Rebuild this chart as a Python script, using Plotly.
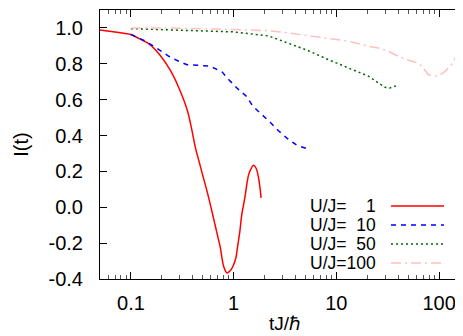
import plotly.graph_objects as go

# ---- data ----
u_values = [1, 10, 50, 100]

t_u1 = [0.05, 0.07, 0.1, 0.12, 0.15, 0.194, 0.243, 0.292, 0.352, 0.39, 0.425, 0.46, 0.5,
        0.54, 0.572, 0.62, 0.66, 0.70, 0.743, 0.77, 0.8, 0.861, 0.93, 1.0, 1.05, 1.1,
        1.15, 1.2, 1.25, 1.3, 1.35, 1.4, 1.48, 1.56, 1.65, 1.75, 1.85]
i_u1 = [0.989, 0.977, 0.963, 0.940, 0.911, 0.845, 0.762, 0.668, 0.545, 0.437, 0.331, 0.257, 0.178,
        0.108, 0.052, -0.032, -0.099, -0.162, -0.227, -0.283, -0.330, -0.366, -0.353, -0.320, -0.283, -0.208,
        -0.134, -0.041, 0.015, 0.070, 0.136, 0.182, 0.215, 0.234, 0.219, 0.163, 0.052]

t_u10 = [0.1, 0.139, 0.187, 0.234, 0.292, 0.352, 0.457, 0.594, 0.77, 0.908, 1.10, 1.33,
         1.54, 1.88, 2.27, 2.73, 3.34, 4.12, 5.15]
i_u10 = [0.963, 0.926, 0.879, 0.842, 0.814, 0.795, 0.792, 0.786, 0.755, 0.708, 0.660, 0.619,
         0.563, 0.520, 0.474, 0.427, 0.383, 0.346, 0.327]

t_u50 = [0.1, 0.478, 1.0, 2.2, 3.42, 5.35, 8.36, 13.1, 20.5, 29.7, 33.2, 38.5]
i_u50 = [0.996, 0.985, 0.978, 0.955, 0.916, 0.873, 0.823, 0.777, 0.731, 0.669, 0.665, 0.678]

t_u100 = [0.1, 0.227, 1.0, 2.19, 3.42, 6.7, 13.1, 20.5, 25.5, 32.1, 40, 53.9, 62.6, 70,
          78.1, 90.5, 101, 114, 132, 153, 163]
i_u100 = [1.0, 1.0, 0.991, 0.985, 0.972, 0.948, 0.926, 0.898, 0.888, 0.870, 0.842, 0.814,
          0.805, 0.777, 0.740, 0.731, 0.734, 0.758, 0.795, 0.861, 0.894]

x_tick_vals = [0.1, 1, 10, 100]
x_tick_text = ["0.1", "1", "10", "100"]
y_tick_vals = [1.0, 0.8, 0.6, 0.4, 0.2, 0.0, -0.2, -0.4]
y_tick_text = ["1.0", "0.8", "0.6", "0.4", "0.2", "0.0", "-0.2", "-0.4"]

# ---- styles ----
FONT = "Liberation Sans, Arial, Helvetica, sans-serif"
series = [
    (t_u1, i_u1, "#ff0000", "solid", "spline"),
    (t_u10, i_u10, "#0000ff", "5px,5px", "linear"),
    (t_u50, i_u50, "#006400", "2px,3px", "linear"),
    (t_u100, i_u100, "#ffc0c0", "10px,4px,2px,4px", "linear"),
]

fig = go.Figure()
for (tx, iy, col, dash, shape), u in zip(series, u_values):
    fig.add_trace(go.Scatter(
        x=tx, y=iy, mode="lines", name=f"U/J={u}",
        line=dict(color=col, width=1.5, dash=dash, shape=shape, smoothing=1.0),
        showlegend=False,
    ))

W, H = 463, 336
ml, mr, mt, mb = 92, 1, 2, 65
pw, ph = W - ml - mr, H - mt - mb

def px_x(p):
    return (p - ml) / pw

def px_y(p):
    return (H - mb - p) / ph

# legend built gnuplot-style: text on the left, sample on the right
row_y = [198, 217, 236, 255]
for (tx, iy, col, dash, shape), u, ry in zip(series, u_values, row_y):
    num = str(u)
    label = "U/J=" + "\u2007" * (3 - len(num)) + num
    fig.add_annotation(x=px_x(370), y=px_y(ry), xref="paper", yref="paper",
                       text=label, showarrow=False, xanchor="right", yanchor="middle",
                       font=dict(family=FONT, size=17.5, color="black"))
    fig.add_shape(type="line", xref="paper", yref="paper",
                  x0=px_x(383), x1=px_x(436), y0=px_y(ry), y1=px_y(ry),
                  line=dict(color=col, width=1.5, dash=dash))

fig.update_xaxes(
    type="log", range=[-1.301, 2.301], automargin=False,
    tickmode="array", tickvals=x_tick_vals, ticktext=x_tick_text,
    ticks="inside", ticklen=7, tickcolor="black", tickwidth=1,
    minor=dict(ticks="inside", ticklen=4, tickcolor="#555", dtick="D1", showgrid=False),
    showline=True, linecolor="black", linewidth=1, mirror="ticks",
    showgrid=False, zeroline=False,
    tickfont=dict(family=FONT, size=20, color="black"),
    ticklabelstandoff=6,
    title=dict(text="tJ/ℏ", font=dict(family=FONT, size=19, color="black"), standoff=3),
)
fig.update_yaxes(
    range=[-0.4, 1.1], automargin=False,
    tickmode="array", tickvals=y_tick_vals, ticktext=y_tick_text,
    ticks="inside", ticklen=7, tickcolor="black", tickwidth=1,
    showline=True, linecolor="black", linewidth=1, mirror="ticks",
    showgrid=False, zeroline=False,
    tickfont=dict(family=FONT, size=20, color="black"),
    ticklabelstandoff=12,
    title=dict(text="I(t)", font=dict(family=FONT, size=20, color="black"), standoff=14),
)
fig.update_layout(
    width=W, height=H,
    margin=dict(l=ml, r=mr, t=mt, b=mb),
    paper_bgcolor="white", plot_bgcolor="white",
    showlegend=False,
)
fig.write_html("out.html")
